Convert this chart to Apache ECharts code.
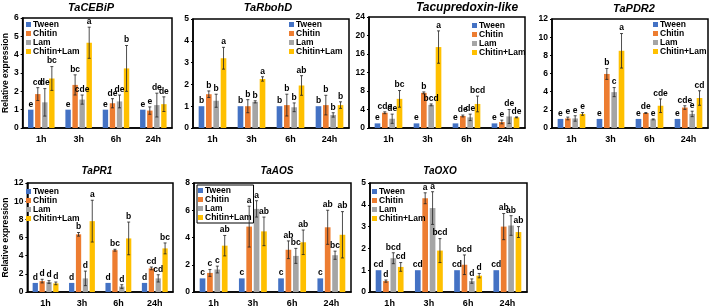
<!DOCTYPE html>
<html>
<head>
<meta charset="utf-8">
<script src="https://cdn.jsdelivr.net/npm/echarts@6/dist/echarts.min.js"></script>
<style>
  html, body { margin: 0; padding: 0; background: #fff; }
  #chart { width: 709px; height: 308px; }
</style>
</head>
<body>
<div id="chart"></div>
<script>
var times = ['1h', '3h', '6h', '24h'];
var treatments = ['Tween', 'Chitin', 'Lam', 'Chitin+Lam'];
var colors = ['#4472C4', '#ED7D31', '#A5A5A5', '#FFC000'];

// values are [treatment][time]
var cebipMean = [[1, 1, 1, 1], [1.85, 2.35, 1.35, 0.95], [1.4, 1.55, 1.45, 1.25], [2.7, 4.65, 3.25, 1.3]];
var cebipErr = [[0, 0, 0, 0], [0.35, 0.55, 0.25, 0.2], [0.75, 0.25, 0.35, 0.65], [0.65, 0.85, 1.25, 0.4]];
var cebipSig = [['e', 'e', 'e', 'e'], ['cd', 'bc', 'de', 'e'], ['de', 'cde', 'de', 'de'], ['bc', 'a', 'b', 'de']];

var rbohdMean = [[1, 1, 1, 1], [1.55, 1.0, 1.05, 1.05], [1.25, 1.2, 0.95, 0.6], [3.2, 2.25, 1.95, 1.05]];
var rbohdErr = [[0, 0, 0, 0], [0.15, 0.3, 0.5, 0.45], [0.3, 0.05, 0.2, 0.1], [0.5, 0.1, 0.45, 0.15]];
var rbohdSig = [['b', 'b', 'b', 'b'], ['b', 'b', 'b', 'b'], ['b', 'b', 'b', 'b'], ['a', 'a', 'ab', 'b']];

var cupredMean = [[1, 1, 1, 1], [3.3, 7.6, 2.6, 1.3], [2.0, 5.0, 2.3, 2.5], [6.3, 17.5, 5.2, 2.3]];
var cupredErr = [[0, 0, 0, 0], [0.2, 0.2, 0.2, 0.4], [1.0, 0.2, 0.7, 1.5], [1.8, 3.5, 1.7, 0.1]];
var cupredSig = [['e', 'e', 'e', 'e'], ['cde', 'b', 'de', 'e'], ['de', 'bcd', 'de', 'de'], ['bc', 'a', 'bcd', 'de']];

var pdr2Mean = [[1, 1, 1, 1], [1.05, 5.95, 1.65, 2.25], [1.05, 3.95, 0.95, 1.55], [1.55, 8.5, 2.45, 3.3]];
var pdr2Err = [[0, 0, 0, 0], [0.15, 0.6, 0.05, 0.2], [0.3, 0.5, 0.05, 0.3], [0.15, 1.9, 0.75, 0.8]];
var pdr2Sig = [['e', 'e', 'e', 'e'], ['e', 'b', 'de', 'cde'], ['e', 'c', 'e', 'e'], ['e', 'a', 'cde', 'cd']];

var pr1Mean = [[1, 1, 1, 1], [1.2, 6.35, 4.6, 2.6], [1.1, 1.5, 0.6, 1.5], [0.95, 7.8, 5.9, 4.8]];
var pr1Err = [[0, 0, 0, 0], [0.2, 0.2, 0.1, 0.15], [0.15, 0.8, 0.2, 0.4], [0.15, 2.3, 1.8, 0.6]];
var pr1Sig = [['d', 'd', 'd', 'd'], ['d', 'b', 'bc', 'cd'], ['d', 'd', 'd', 'cd'], ['d', 'a', 'b', 'bc']];

var aosMean = [[1, 1, 1, 1], [1.4, 4.8, 3.1, 4.75], [1.65, 6.1, 2.65, 2.7], [3.4, 4.45, 3.65, 4.2]];
var aosErr = [[0, 0, 0, 0], [0.25, 1.5, 0.65, 1.25], [0.25, 0.6, 0.55, 0.3], [0.75, 1.05, 0.9, 1.7]];
var aosSig = [['c', 'c', 'c', 'c'], ['c', 'a', 'ab', 'ab'], ['c', 'a', 'bc', 'bc'], ['ab', 'ab', 'ab', 'ab']];

var oxoMean = [[1, 1, 1, 1], [0.5, 4.3, 1.25, 3.0], [1.55, 3.85, 0.5, 3.05], [1.15, 1.9, 0.75, 2.75]];
var oxoErr = [[0, 0, 0, 0], [0.05, 0.25, 0.45, 0.6], [0.25, 0.75, 0.1, 0.45], [0.2, 0.55, 0.1, 0.25]];
var oxoSig = [['cd', 'cd', 'cd', 'cd'], ['d', 'a', 'bcd', 'ab'], ['bcd', 'a', 'd', 'ab'], ['cd', 'bcd', 'd', 'ab']];

var titles = ['TaCEBiP', 'TaRbohD', 'Tacupredoxin-like', 'TaPDR2', 'TaPR1', 'TaAOS', 'TaOXO'];
var yMax = [6, 5, 24, 12, 12, 8, 5];
var yStep = [1, 1, 4, 2, 2, 2, 1];

var panelData = [
    [cebipMean, cebipErr, cebipSig],
    [rbohdMean, rbohdErr, rbohdSig],
    [cupredMean, cupredErr, cupredSig],
    [pdr2Mean, pdr2Err, pdr2Sig],
    [pr1Mean, pr1Err, pr1Sig],
    [aosMean, aosErr, aosSig],
    [oxoMean, oxoErr, oxoSig]
];

// layout (pixels)
var grids = [
    {left: 21, top: 18, width: 151, height: 110},
    {left: 193, top: 19, width: 156, height: 109},
    {left: 369, top: 17, width: 156, height: 111},
    {left: 552, top: 19, width: 156, height: 109},
    {left: 21, top: 183, width: 152, height: 111},
    {left: 194, top: 183, width: 157, height: 111},
    {left: 370, top: 183, width: 157, height: 111}
];
var titlePos = [[91, 2, 11], [268, 2, 11], [467, 2, 12], [634, 3, 11], [97, 166, 10], [277, 166, 10], [440, 166, 10]];
var legendPos = [[26, 20], [289, 20], [472, 21], [653, 20], [26, 187], [197, 185], [372, 187]];

var FONT = '"Liberation Sans", Arial, sans-serif';
var CAT_GAP = 0.29;
var BAR_GAP = 0.3;

var myChart = echarts.init(document.getElementById('chart'));

var option = {
    animation: false,
    textStyle: {fontFamily: FONT},
    title: [],
    legend: [],
    grid: [],
    xAxis: [],
    yAxis: [],
    series: []
};

panelData.forEach(function (pd, p) {
    var mean = pd[0], err = pd[1], sig = pd[2];
    option.grid.push({
        left: grids[p].left, top: grids[p].top, width: grids[p].width, height: grids[p].height,
        show: true, borderColor: '#000', borderWidth: 1.5, backgroundColor: 'transparent'
    });
    option.title.push({
        text: titles[p], left: titlePos[p][0], top: titlePos[p][1], textAlign: 'center', padding: 0,
        textStyle: {fontSize: titlePos[p][2], fontStyle: 'italic', fontWeight: 'bold', color: '#000', fontFamily: FONT}
    });
    option.legend.push({
        data: treatments, orient: 'vertical', left: legendPos[p][0], top: legendPos[p][1],
        icon: 'rect', itemWidth: 5, itemHeight: 5, itemGap: 0, padding: p === 5 ? [1, 2, 1, 1] : 0,
        borderColor: '#000', borderWidth: p === 5 ? 1 : 0,
        textStyle: {fontSize: 8.5, fontWeight: 'bold', color: '#000', padding: [0, 0, 0, -3], lineHeight: 9, fontFamily: FONT}
    });
    option.xAxis.push({
        type: 'category', gridIndex: p, data: times,
        axisLine: {lineStyle: {color: '#000', width: 1.5}},
        axisTick: {show: false},
        axisLabel: {fontSize: 9, fontWeight: 'bold', color: '#000', margin: 7}
    });
    option.yAxis.push({
        type: 'value', gridIndex: p, min: 0, max: yMax[p], interval: yStep[p],
        name: (p === 0 || p === 4) ? 'Relative expression' : '',
        nameLocation: 'middle', nameGap: 12, nameRotate: 90,
        nameTextStyle: {fontSize: 8.5, fontWeight: 'bold', color: '#000'},
        axisLine: {show: true, lineStyle: {color: '#000', width: 1.5}},
        axisTick: {show: true, length: 2, lineStyle: {color: '#000'}},
        splitLine: {show: false},
        axisLabel: {fontSize: 8.5, fontWeight: 'bold', color: '#000', margin: 4}
    });
    treatments.forEach(function (name, t) {
        option.series.push({
            name: name, type: 'bar', xAxisIndex: p, yAxisIndex: p,
            data: mean[t],
            itemStyle: {color: colors[t]},
            barCategoryGap: (CAT_GAP * 100) + '%',
            barGap: (BAR_GAP * 100) + '%'
        });
    });
    // error bars + letters
    var ebData = [];
    var ebSig = [];
    treatments.forEach(function (name, t) {
        times.forEach(function (tm, c) {
            ebData.push([c, t, mean[t][c], err[t][c]]);
            ebSig.push(sig[t][c]);
        });
    });
    option.series.push({
        type: 'custom', xAxisIndex: p, yAxisIndex: p, z: 5,
        data: ebData,
        encode: {x: 0, y: 2},
        renderItem: function (params, api) {
            var c = api.value(0), t = api.value(1), m = api.value(2), e = api.value(3);
            var band = api.size([1, 0])[0];
            var group = band * (1 - CAT_GAP);
            var bw = group / (4 + 3 * BAR_GAP);
            var cx = api.coord([c, 0])[0] - group / 2 + bw / 2 + t * bw * (1 + BAR_GAP);
            var top = api.coord([c, m + e])[1];
            var bot = api.coord([c, m - e])[1];
            var children = [];
            var ls = {stroke: '#222', lineWidth: 0.8};
            if (e > 0) {
                children.push({type: 'line', shape: {x1: cx, y1: top, x2: cx, y2: bot}, style: ls});
                children.push({type: 'line', shape: {x1: cx - 1.5, y1: top, x2: cx + 1.5, y2: top}, style: ls});
                children.push({type: 'line', shape: {x1: cx - 1.5, y1: bot, x2: cx + 1.5, y2: bot}, style: ls});
            }
            children.push({
                type: 'text',
                style: {
                    text: ebSig[params.dataIndex], x: cx, y: top - 1,
                    align: 'center', verticalAlign: 'bottom',
                    fontSize: 8.5, fontWeight: 'bold', fontFamily: FONT, fill: '#000'
                }
            });
            return {type: 'group', children: children};
        }
    });
});

option && myChart.setOption(option);
</script>
</body>
</html>
